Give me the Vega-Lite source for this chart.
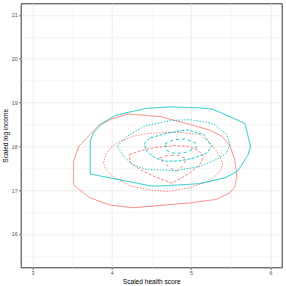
{
  "$schema": "https://vega.github.io/schema/vega-lite/v6.json",
  "width": 261,
  "height": 264,
  "autosize": "none",
  "padding": {"left": 20.7, "top": 3.3, "right": 4.3, "bottom": 18.4},
  "background": "white",
  "config": {"view": {"stroke": "#333333", "strokeWidth": 1}, "font": "Liberation Sans"},
  "data": {"values": [
    {"g":"A","l":"1","o":0,"x":3.585,"y":18.0},
    {"g":"A","l":"1","o":1,"x":3.728,"y":18.27},
    {"g":"A","l":"1","o":2,"x":3.83,"y":18.47},
    {"g":"A","l":"1","o":3,"x":4.005,"y":18.63},
    {"g":"A","l":"1","o":4,"x":4.207,"y":18.74},
    {"g":"A","l":"1","o":5,"x":4.61,"y":18.68},
    {"g":"A","l":"1","o":6,"x":4.95,"y":18.52},
    {"g":"A","l":"1","o":7,"x":5.24,"y":18.37},
    {"g":"A","l":"1","o":8,"x":5.39,"y":18.23},
    {"g":"A","l":"1","o":9,"x":5.49,"y":18.02},
    {"g":"A","l":"1","o":10,"x":5.55,"y":17.70},
    {"g":"A","l":"1","o":11,"x":5.58,"y":17.32},
    {"g":"A","l":"1","o":12,"x":5.55,"y":17.07},
    {"g":"A","l":"1","o":13,"x":5.49,"y":16.94},
    {"g":"A","l":"1","o":14,"x":5.32,"y":16.79},
    {"g":"A","l":"1","o":15,"x":4.99,"y":16.71},
    {"g":"A","l":"1","o":16,"x":4.60,"y":16.65},
    {"g":"A","l":"1","o":17,"x":4.27,"y":16.60},
    {"g":"A","l":"1","o":18,"x":3.98,"y":16.66},
    {"g":"A","l":"1","o":19,"x":3.72,"y":16.83},
    {"g":"A","l":"1","o":20,"x":3.52,"y":17.12},
    {"g":"A","l":"1","o":21,"x":3.52,"y":17.66},
    {"g":"A","l":"1","o":22,"x":3.585,"y":18.0},

    {"g":"A","l":"2","o":0,"x":3.895,"y":17.62},
    {"g":"A","l":"2","o":1,"x":3.93,"y":17.83},
    {"g":"A","l":"2","o":2,"x":3.99,"y":17.98},
    {"g":"A","l":"2","o":3,"x":4.105,"y":18.11},
    {"g":"A","l":"2","o":4,"x":4.27,"y":18.23},
    {"g":"A","l":"2","o":5,"x":4.44,"y":18.29},
    {"g":"A","l":"2","o":6,"x":4.65,"y":18.32},
    {"g":"A","l":"2","o":7,"x":4.86,"y":18.32},
    {"g":"A","l":"2","o":8,"x":5.11,"y":18.27},
    {"g":"A","l":"2","o":9,"x":5.24,"y":18.08},
    {"g":"A","l":"2","o":10,"x":5.34,"y":17.85},
    {"g":"A","l":"2","o":11,"x":5.40,"y":17.62},
    {"g":"A","l":"2","o":12,"x":5.37,"y":17.43},
    {"g":"A","l":"2","o":13,"x":5.22,"y":17.20},
    {"g":"A","l":"2","o":14,"x":4.97,"y":17.05},
    {"g":"A","l":"2","o":15,"x":4.69,"y":16.97},
    {"g":"A","l":"2","o":16,"x":4.46,"y":17.01},
    {"g":"A","l":"2","o":17,"x":4.23,"y":17.10},
    {"g":"A","l":"2","o":18,"x":4.04,"y":17.28},
    {"g":"A","l":"2","o":19,"x":3.93,"y":17.47},
    {"g":"A","l":"2","o":20,"x":3.895,"y":17.62},

    {"g":"A","l":"3","o":0,"x":4.22,"y":17.81},
    {"g":"A","l":"3","o":1,"x":4.40,"y":17.92},
    {"g":"A","l":"3","o":2,"x":4.57,"y":17.98},
    {"g":"A","l":"3","o":3,"x":4.80,"y":18.02},
    {"g":"A","l":"3","o":4,"x":4.97,"y":18.0},
    {"g":"A","l":"3","o":5,"x":5.09,"y":17.91},
    {"g":"A","l":"3","o":6,"x":5.16,"y":17.77},
    {"g":"A","l":"3","o":7,"x":5.11,"y":17.58},
    {"g":"A","l":"3","o":8,"x":4.95,"y":17.35},
    {"g":"A","l":"3","o":9,"x":4.76,"y":17.16},
    {"g":"A","l":"3","o":10,"x":4.53,"y":17.32},
    {"g":"A","l":"3","o":11,"x":4.36,"y":17.47},
    {"g":"A","l":"3","o":12,"x":4.24,"y":17.62},
    {"g":"A","l":"3","o":13,"x":4.22,"y":17.81},

    {"g":"A","l":"4","o":0,"x":4.60,"y":17.73},
    {"g":"A","l":"4","o":1,"x":4.69,"y":17.79},
    {"g":"A","l":"4","o":2,"x":4.86,"y":17.80},
    {"g":"A","l":"4","o":3,"x":4.94,"y":17.70},
    {"g":"A","l":"4","o":4,"x":4.89,"y":17.54},
    {"g":"A","l":"4","o":5,"x":4.81,"y":17.43},
    {"g":"A","l":"4","o":6,"x":4.74,"y":17.51},
    {"g":"A","l":"4","o":7,"x":4.65,"y":17.64},
    {"g":"A","l":"4","o":8,"x":4.60,"y":17.73},

    {"g":"B","l":"1","o":0,"x":3.73,"y":18.12},
    {"g":"B","l":"1","o":1,"x":3.77,"y":18.31},
    {"g":"B","l":"1","o":2,"x":3.88,"y":18.53},
    {"g":"B","l":"1","o":3,"x":4.04,"y":18.70},
    {"g":"B","l":"1","o":4,"x":4.19,"y":18.77},
    {"g":"B","l":"1","o":5,"x":4.45,"y":18.87},
    {"g":"B","l":"1","o":6,"x":4.74,"y":18.90},
    {"g":"B","l":"1","o":7,"x":5.11,"y":18.88},
    {"g":"B","l":"1","o":8,"x":5.27,"y":18.85},
    {"g":"B","l":"1","o":9,"x":5.49,"y":18.68},
    {"g":"B","l":"1","o":10,"x":5.68,"y":18.52},
    {"g":"B","l":"1","o":11,"x":5.75,"y":18.0},
    {"g":"B","l":"1","o":12,"x":5.72,"y":17.81},
    {"g":"B","l":"1","o":13,"x":5.59,"y":17.44},
    {"g":"B","l":"1","o":14,"x":5.44,"y":17.29},
    {"g":"B","l":"1","o":15,"x":5.11,"y":17.15},
    {"g":"B","l":"1","o":16,"x":4.86,"y":17.12},
    {"g":"B","l":"1","o":17,"x":4.52,"y":17.09},
    {"g":"B","l":"1","o":18,"x":4.23,"y":17.19},
    {"g":"B","l":"1","o":19,"x":3.98,"y":17.28},
    {"g":"B","l":"1","o":20,"x":3.73,"y":17.37},
    {"g":"B","l":"1","o":21,"x":3.73,"y":18.12},

    {"g":"B","l":"2","o":0,"x":4.07,"y":18.0},
    {"g":"B","l":"2","o":1,"x":4.19,"y":18.23},
    {"g":"B","l":"2","o":2,"x":4.42,"y":18.47},
    {"g":"B","l":"2","o":3,"x":4.74,"y":18.59},
    {"g":"B","l":"2","o":4,"x":4.99,"y":18.61},
    {"g":"B","l":"2","o":5,"x":5.28,"y":18.52},
    {"g":"B","l":"2","o":6,"x":5.45,"y":18.27},
    {"g":"B","l":"2","o":7,"x":5.49,"y":18.04},
    {"g":"B","l":"2","o":8,"x":5.45,"y":17.85},
    {"g":"B","l":"2","o":9,"x":5.32,"y":17.70},
    {"g":"B","l":"2","o":10,"x":5.11,"y":17.54},
    {"g":"B","l":"2","o":11,"x":4.82,"y":17.45},
    {"g":"B","l":"2","o":12,"x":4.44,"y":17.47},
    {"g":"B","l":"2","o":13,"x":4.27,"y":17.58},
    {"g":"B","l":"2","o":14,"x":4.15,"y":17.77},
    {"g":"B","l":"2","o":15,"x":4.07,"y":18.0},

    {"g":"B","l":"3","o":0,"x":4.41,"y":18.06},
    {"g":"B","l":"3","o":1,"x":4.48,"y":18.19},
    {"g":"B","l":"3","o":2,"x":4.69,"y":18.30},
    {"g":"B","l":"3","o":3,"x":4.95,"y":18.38},
    {"g":"B","l":"3","o":4,"x":5.16,"y":18.27},
    {"g":"B","l":"3","o":5,"x":5.26,"y":18.0},
    {"g":"B","l":"3","o":6,"x":5.20,"y":17.85},
    {"g":"B","l":"3","o":7,"x":5.03,"y":17.73},
    {"g":"B","l":"3","o":8,"x":4.86,"y":17.67},
    {"g":"B","l":"3","o":9,"x":4.69,"y":17.66},
    {"g":"B","l":"3","o":10,"x":4.55,"y":17.73},
    {"g":"B","l":"3","o":11,"x":4.44,"y":17.89},
    {"g":"B","l":"3","o":12,"x":4.41,"y":18.06},

    {"g":"B","l":"4","o":0,"x":4.67,"y":18.06},
    {"g":"B","l":"4","o":1,"x":4.78,"y":18.15},
    {"g":"B","l":"4","o":2,"x":4.92,"y":18.17},
    {"g":"B","l":"4","o":3,"x":5.06,"y":18.08},
    {"g":"B","l":"4","o":4,"x":5.07,"y":17.98},
    {"g":"B","l":"4","o":5,"x":4.95,"y":17.87},
    {"g":"B","l":"4","o":6,"x":4.80,"y":17.83},
    {"g":"B","l":"4","o":7,"x":4.69,"y":17.91},
    {"g":"B","l":"4","o":8,"x":4.67,"y":18.06}
  ]},
  "mark": {"type": "line", "strokeWidth": 0.9},
  "encoding": {
    "x": {
      "field": "x", "type": "quantitative",
      "scale": {"domain": [2.853, 6.143], "nice": false, "zero": false},
      "axis": {
        "values": [3, 3.5, 4, 4.5, 5, 5.5, 6],
        "labelExpr": "datum.value % 1 === 0 ? format(datum.value, 'd') : ''",
        "grid": true, "gridColor": "#EBEBEB",
        "gridWidth": {"condition": {"test": "datum.value % 1 !== 0", "value": 0.5}, "value": 0.9},
        "tickOpacity": {"condition": {"test": "datum.value % 1 !== 0", "value": 0}, "value": 1},
        "tickColor": "#333333", "tickSize": 2, "tickWidth": 0.8,
        "domain": false, "labelFlush": false,
        "labelColor": "#4D4D4D", "labelFontSize": 5.3, "labelPadding": 1.5,
        "title": "Scaled health score", "titleFontSize": 6.6, "titleFontWeight": "normal",
        "titleColor": "#000000", "titlePadding": 2.5
      }
    },
    "y": {
      "field": "y", "type": "quantitative",
      "scale": {"domain": [15.24, 21.266], "nice": false, "zero": false},
      "axis": {
        "values": [15.5, 16, 16.5, 17, 17.5, 18, 18.5, 19, 19.5, 20, 20.5, 21],
        "labelExpr": "datum.value % 1 === 0 ? format(datum.value, 'd') : ''",
        "grid": true, "gridColor": "#EBEBEB",
        "gridWidth": {"condition": {"test": "datum.value % 1 !== 0", "value": 0.5}, "value": 0.9},
        "tickOpacity": {"condition": {"test": "datum.value % 1 !== 0", "value": 0}, "value": 1},
        "tickColor": "#333333", "tickSize": 2, "tickWidth": 0.8,
        "domain": false, "labelFlush": false,
        "labelColor": "#4D4D4D", "labelFontSize": 5.3, "labelPadding": 1.5,
        "title": "Scaled log income", "titleFontSize": 6.6, "titleFontWeight": "normal",
        "titleColor": "#000000", "titlePadding": 2.5
      }
    },
    "color": {"field": "g", "type": "nominal", "scale": {"domain": ["A", "B"], "range": ["#F8766D", "#00BFC4"]}, "legend": null},
    "strokeDash": {"field": "l", "type": "nominal", "scale": {"domain": ["1", "2", "3", "4"], "range": [[1, 0], [1.5, 1.5], [3, 1.5], [3, 3]]}, "legend": null},
    "order": {"field": "o", "type": "quantitative"}
  }
}
